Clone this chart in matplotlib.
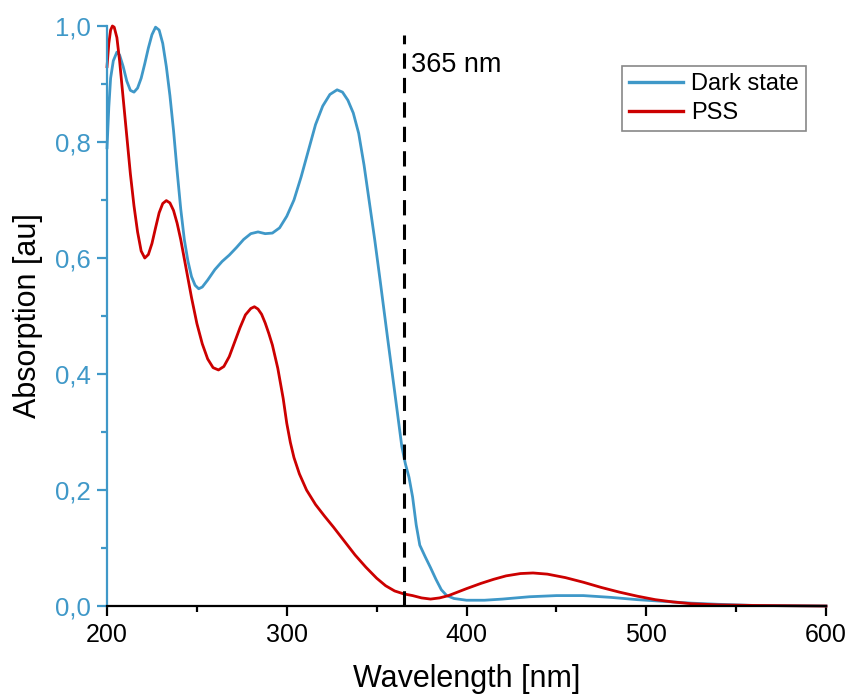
import matplotlib
matplotlib.use("Agg")
import matplotlib.pyplot as plt
from matplotlib.ticker import MultipleLocator, FuncFormatter

# values
dark_x = [200, 201, 202, 203.5, 205.5, 207, 209, 211, 213, 215, 217, 219, 221, 223,
          225, 227, 229, 231, 233, 235, 237, 239, 241, 243, 245, 247, 249, 251, 253,
          256, 260, 264, 268, 272, 276, 280, 284, 288, 292, 296, 300, 304, 308, 312,
          316, 320, 324, 328, 331, 334, 337, 340, 343, 346, 349, 352, 356, 360, 364,
          366, 368, 370, 372, 374, 377, 380, 383, 386, 389, 393, 400, 410, 420, 435,
          450, 465, 480, 495, 510, 525, 540, 560, 580, 600]
dark_y = [0.79, 0.86, 0.91, 0.94, 0.955, 0.95, 0.93, 0.905, 0.889, 0.886, 0.893,
          0.91, 0.935, 0.962, 0.985, 0.998, 0.993, 0.97, 0.93, 0.88, 0.82, 0.75,
          0.685, 0.632, 0.595, 0.568, 0.553, 0.547, 0.550, 0.562, 0.58, 0.594, 0.605,
          0.618, 0.632, 0.642, 0.645, 0.642, 0.643, 0.652, 0.672, 0.70, 0.74, 0.785,
          0.83, 0.862, 0.882, 0.89, 0.886, 0.872, 0.85, 0.815, 0.76, 0.695, 0.63,
          0.56, 0.464, 0.37, 0.275, 0.245, 0.222, 0.188, 0.14, 0.105, 0.085, 0.066,
          0.046, 0.028, 0.018, 0.013, 0.01, 0.01, 0.012, 0.016, 0.018, 0.018, 0.015,
          0.011, 0.008, 0.005, 0.003, 0.001, 0.0005, 0.0]

pss_x = [200, 201, 202, 203, 204, 205.5, 207, 209, 211, 213, 215, 217, 219, 221, 223,
         225, 227, 229, 231, 233, 235, 237, 239, 241, 244, 247, 250, 253, 256, 259,
         262, 265, 268, 271, 274, 277, 280, 282, 284, 286, 288, 290, 292, 295, 298,
         300, 302, 304, 307, 311, 316, 321, 326, 332, 338, 344, 350, 355, 360, 365,
         370, 375, 380, 385, 390, 395, 400, 408, 415, 422, 430, 437, 445, 455, 465,
         475, 485, 495, 505, 515, 525, 540, 560, 600]
pss_y = [0.93, 0.97, 0.993, 1.0, 0.998, 0.98, 0.94, 0.875, 0.81, 0.745, 0.69, 0.645,
         0.612, 0.6, 0.606, 0.625, 0.652, 0.678, 0.694, 0.699, 0.695, 0.682, 0.66,
         0.632, 0.582, 0.532, 0.487, 0.452, 0.426, 0.411, 0.407, 0.413, 0.43, 0.455,
         0.48, 0.502, 0.513, 0.516, 0.512, 0.503, 0.488, 0.47, 0.45, 0.41, 0.358,
         0.315, 0.282, 0.256, 0.228, 0.20, 0.175, 0.155, 0.136, 0.112, 0.088, 0.067,
         0.048, 0.035, 0.026, 0.021, 0.018, 0.014, 0.012, 0.014, 0.018, 0.024, 0.03,
         0.039, 0.046, 0.052, 0.056, 0.057, 0.055, 0.049, 0.041, 0.032, 0.024, 0.017,
         0.011, 0.007, 0.004, 0.002, 0.001, 0.0]

excitation_nm = 365
labels = ["Dark state", "PSS"]
blue = "#3f98c8"
red = "#cc0000"


def main():
    plt.rcParams["font.family"] = ["Liberation Sans", "DejaVu Sans"]
    fig = plt.figure(figsize=(8.5, 6.99), dpi=100)
    ax = fig.add_axes([0.1259, 0.1330, 0.8459, 0.8298])

    ax.plot(dark_x, dark_y, color=blue, lw=2.0, label=labels[0], clip_on=False)
    ax.plot(pss_x, pss_y, color=red, lw=2.0, label=labels[1], clip_on=False)
    ax.plot([excitation_nm, excitation_nm], [0, 0.985], color="black", lw=2.2,
            dashes=(5, 3), clip_on=False)
    ax.text(excitation_nm + 4, 0.932, "365 nm", fontsize=19.5, va="center", ha="left")

    ax.set_xlim(200, 600)
    ax.set_ylim(0, 1.0)
    ax.spines["top"].set_visible(False)
    ax.spines["right"].set_visible(False)
    ax.spines["left"].set_color(blue)
    ax.spines["left"].set_linewidth(1.6)
    ax.spines["bottom"].set_linewidth(1.6)

    ax.xaxis.set_major_locator(MultipleLocator(100))
    ax.xaxis.set_minor_locator(MultipleLocator(50))
    ax.yaxis.set_major_locator(MultipleLocator(0.2))
    ax.yaxis.set_minor_locator(MultipleLocator(0.1))
    ax.yaxis.set_major_formatter(FuncFormatter(lambda v, p: f"{v:.1f}".replace(".", ",")))

    ax.tick_params(axis="x", which="major", direction="out", length=7.5, width=1.6,
                   labelsize=18, pad=5)
    ax.tick_params(axis="x", which="minor", direction="out", length=4.5, width=1.6)
    ax.tick_params(axis="y", which="major", direction="out", length=7.5, width=1.6,
                   color=blue, labelcolor=blue, labelsize=18.5, pad=4)
    ax.tick_params(axis="y", which="minor", direction="out", length=4.5, width=1.6,
                   color=blue)

    ax.set_xlabel("Wavelength [nm]", fontsize=22, labelpad=12)
    ax.set_ylabel("Absorption [au]", fontsize=22, labelpad=9)

    leg = ax.legend(loc="upper left", bbox_to_anchor=(0.716, 0.931), fontsize=17,
                    fancybox=False, edgecolor="#888888", framealpha=1,
                    handlelength=2.3, handletextpad=0.35, borderpad=0.3,
                    labelspacing=0.3, borderaxespad=0)
    leg.get_frame().set_linewidth(1.2)
    for line in leg.get_lines():
        line.set_linewidth(2.4)

    fig.savefig("out.png", dpi=100)


if __name__ == "__main__":
    main()
